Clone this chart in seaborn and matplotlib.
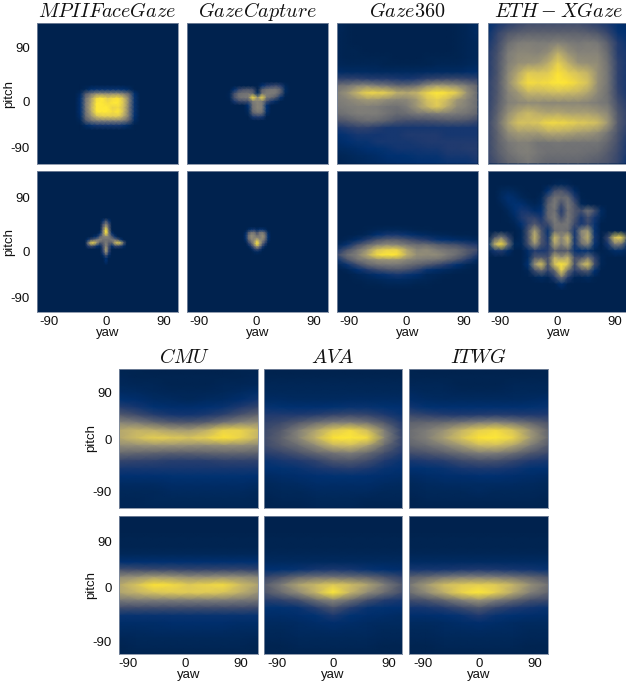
import matplotlib
matplotlib.use("Agg")
import matplotlib.pyplot as plt
import seaborn as sns
import numpy as np

# values are 0-100 density, each grid covers only its window
mpii_head = [
    [0,0,0,0,0,0,0,0,0,0,0,0,0],
    [0,0,3,8,10,10,10,10,10,8,5,0,0],
    [0,5,32,48,58,60,58,60,60,52,38,8,0],
    [0,8,45,68,95,100,90,95,98,82,50,10,0],
    [0,8,48,72,100,100,95,100,100,85,50,10,0],
    [0,8,48,75,100,100,100,92,95,82,48,10,0],
    [0,8,45,72,100,100,100,95,100,82,48,10,0],
    [0,6,42,62,82,88,88,88,88,72,46,8,0],
    [0,3,30,45,50,52,52,52,52,48,32,5,0],
    [0,0,5,10,12,12,12,12,12,10,5,0,0],
    [0,0,0,0,0,0,0,0,0,0,0,0,0],
]
mpii_gaze = [
    [0,0,0,0,0,0,0,0,0,0,0,0,0,0,0,0,0],
    [0,0,0,0,0,0,0,0,0,0,0,0,0,0,0,0,0],
    [0,0,0,0,0,0,0,10,30,10,0,0,0,0,0,0,0],
    [0,0,0,0,0,0,0,25,50,25,0,0,0,0,0,0,0],
    [0,0,0,0,0,0,0,35,75,30,0,0,0,0,0,0,0],
    [0,0,0,0,0,0,0,45,100,40,0,0,0,0,0,0,0],
    [0,0,0,0,0,0,10,50,95,48,10,0,0,0,0,0,0],
    [0,0,0,0,5,10,35,50,55,50,30,10,0,0,0,0,0],
    [0,0,10,25,35,50,55,45,45,45,50,45,30,10,0,0,0],
    [0,0,45,88,90,62,30,35,50,35,35,75,90,78,30,0,0],
    [0,0,15,25,20,10,5,25,55,25,8,20,20,15,5,0,0],
    [0,0,0,0,0,0,0,20,70,20,0,0,0,0,0,0,0],
    [0,0,0,0,0,0,0,15,60,15,0,0,0,0,0,0,0],
    [0,0,0,0,0,0,0,5,25,5,0,0,0,0,0,0,0],
    [0,0,0,0,0,0,0,0,8,0,0,0,0,0,0,0,0],
    [0,0,0,0,0,0,0,0,8,0,0,0,0,0,0,0,0],
    [0,0,0,0,0,0,0,0,0,0,0,0,0,0,0,0,0],
]
capture_head = [
    [0,0,0,0,0,0,0,0,0,0,0,0,0,0,0],
    [0,0,0,0,0,0,0,0,0,0,0,0,0,0,0],
    [0,0,0,0,0,0,0,0,8,15,18,22,15,3,0],
    [0,0,8,20,28,30,25,0,35,45,48,48,35,5,0],
    [0,2,25,42,45,45,40,5,45,50,50,48,30,3,0],
    [0,2,28,45,48,50,95,60,92,48,42,30,10,0,0],
    [0,0,12,22,25,25,50,55,50,25,12,5,0,0,0],
    [0,0,0,0,0,8,45,55,50,8,0,0,0,0,0],
    [0,0,0,0,0,5,45,55,50,8,0,0,0,0,0],
    [0,0,0,0,0,3,35,45,40,5,0,0,0,0,0],
    [0,0,0,0,0,0,12,15,12,0,0,0,0,0,0],
    [0,0,0,0,0,0,0,0,0,0,0,0,0,0,0],
    [0,0,0,0,0,0,0,0,0,0,0,0,0,0,0],
]
capture_gaze = [
    [0,0,0,0,0,0,0,0,0,0,0],
    [0,0,5,10,12,5,10,10,5,0,0],
    [0,5,30,45,45,25,45,48,30,5,0],
    [0,10,42,58,55,40,50,60,42,8,0],
    [0,10,45,60,55,58,50,60,42,8,0],
    [0,5,30,50,60,85,65,50,30,5,0],
    [0,0,15,35,65,100,70,38,15,0,0],
    [0,0,3,15,40,65,45,15,3,0,0],
    [0,0,0,3,15,25,15,3,0,0,0],
    [0,0,0,0,3,5,3,0,0,0,0],
    [0,0,0,0,0,0,0,0,0,0,0],
]
g360_head = [
    [3,1,0,0,0,0,0,0,0,0,0,0,1,2,5],
    [3,1,0,0,0,0,0,0,0,0,0,0,1,2,5],
    [2,1,0,0,0,0,0,0,0,0,0,0,1,2,4],
    [2,1,0,0,0,0,0,0,0,0,0,0,1,2,3],
    [2,1,1,0,0,0,0,0,0,0,0,0,1,2,3],
    [2,1,1,1,1,1,0,0,0,1,1,1,1,2,3],
    [3,2,2,2,2,1,1,1,1,1,2,2,2,3,4],
    [6,5,5,5,4,4,4,4,4,5,5,5,5,6,7],
    [18,18,18,16,15,15,13,12,14,18,20,22,22,20,18],
    [45,48,55,58,52,48,40,40,45,60,68,65,60,50,38],
    [52,62,78,92,92,88,75,72,78,92,100,96,88,62,42],
    [50,54,60,65,64,58,55,56,66,84,90,82,64,54,42],
    [48,50,52,52,50,46,44,50,64,78,88,74,58,52,42],
    [42,46,50,50,50,45,40,42,48,48,50,50,48,45,38],
    [28,32,38,42,40,35,28,25,25,26,28,30,30,28,22],
    [12,15,18,18,15,12,12,12,12,12,12,12,12,12,12],
    [8,10,12,12,11,12,12,14,14,14,14,12,12,12,12],
    [6,8,10,10,12,12,12,12,13,14,14,14,14,14,14],
    [4,5,6,8,9,10,11,11,11,12,12,14,14,15,15],
    [2,3,4,5,6,8,8,9,10,10,10,12,12,12,14],
    [1,2,3,4,5,6,7,7,8,8,9,10,10,10,12],
]
g360_gaze = [
    [0,0,0,0,0,0,0,0,0,0,0,0,0,0,0],
    [0,0,0,1,2,3,3,2,1,1,0,0,0,0,0],
    [0,0,1,3,8,12,12,10,6,4,3,2,1,1,0],
    [0,2,6,15,28,35,35,28,20,15,10,8,6,5,3],
    [3,10,25,40,52,58,55,48,42,42,35,30,26,18,14],
    [12,28,45,62,85,92,92,70,55,58,50,45,42,32,25],
    [22,42,52,72,95,100,98,75,60,58,58,50,42,30,15],
    [10,28,45,52,60,62,62,55,50,48,45,38,28,15,5],
    [2,10,22,38,45,48,48,42,36,30,22,14,8,3,1],
    [0,2,8,14,22,28,30,26,18,10,6,4,2,1,0],
    [0,0,2,4,7,10,12,10,7,3,2,1,0,0,0],
    [0,0,1,2,3,4,5,4,3,2,1,0,0,0,0],
    [0,0,0,1,1,2,2,2,1,1,0,0,0,0,0],
    [0,0,0,0,0,0,0,0,0,0,0,0,0,0,0],
]
eth_head = [
    [8,12,16,20,24,24,24,24,24,24,20,16,12,8,5],
    [10,20,30,34,36,36,36,36,36,36,34,30,20,10,8],
    [12,24,42,50,52,50,50,54,50,48,50,48,34,15,10],
    [15,28,50,56,56,54,60,75,62,54,54,54,40,15,12],
    [15,30,52,60,62,64,74,90,76,62,60,58,44,18,12],
    [15,30,56,72,88,86,88,98,90,84,78,60,46,18,12],
    [18,32,58,80,96,94,96,100,98,92,84,60,46,18,12],
    [18,32,54,64,78,78,80,82,80,78,70,56,44,20,12],
    [18,34,52,56,58,58,56,56,56,56,54,50,46,25,15],
    [20,38,60,72,80,74,70,72,68,68,68,64,56,30,18],
    [22,42,68,84,84,86,94,94,92,88,86,82,64,32,18],
    [22,38,58,66,66,66,72,72,70,66,64,58,46,28,15],
    [22,36,48,52,52,46,46,48,46,46,46,46,38,25,12],
    [22,34,44,50,52,47,44,44,44,44,42,40,32,22,12],
    [20,28,38,42,48,42,38,38,38,38,35,32,28,20,10],
]
eth_gaze = [
    [0,0,0,0,0,0,0,0,0,0,0,0,0,0,0,0,0,0,0,0,0,0],
    [0,0,0,0,0,0,0,0,0,0,0,0,0,0,0,0,0,0,0,0,0,0],
    [0,0,0,0,0,0,0,0,0,0,2,3,2,0,0,0,0,0,0,0,0,0],
    [0,0,3,4,3,1,0,0,0,8,25,30,18,5,0,0,0,0,0,0,0,0],
    [0,0,4,8,6,3,1,0,3,25,45,40,42,15,1,0,0,0,0,0,0,0],
    [0,0,2,6,9,8,4,2,5,35,50,25,48,28,3,1,0,0,0,0,0,0],
    [0,0,0,3,8,12,11,6,8,38,45,15,45,32,25,45,25,5,0,0,0,0],
    [0,0,0,1,5,13,18,18,12,38,50,25,48,30,12,26,12,3,0,0,0,0],
    [0,0,0,0,2,8,18,32,18,22,48,45,48,22,12,22,10,0,0,0,0,0],
    [0,0,0,0,0,3,28,68,30,10,42,45,42,12,55,65,10,0,0,0,0,0],
    [0,30,52,22,0,3,28,78,32,12,80,55,78,12,52,75,12,0,22,85,90,18],
    [8,75,95,48,3,3,25,62,28,15,70,50,68,12,42,55,10,0,12,50,45,8],
    [2,12,15,6,0,0,6,15,12,15,36,28,34,10,8,10,3,0,2,6,6,2],
    [0,0,0,0,0,0,5,30,32,25,75,62,75,25,26,45,18,2,0,0,0,0],
    [0,0,0,0,0,0,8,62,85,28,85,100,85,26,68,85,25,2,0,0,0,0],
    [0,0,0,0,0,0,2,22,38,18,38,88,42,16,25,32,8,0,0,0,0,0],
    [0,0,0,0,0,0,0,2,4,2,15,45,15,2,2,4,1,0,0,0,0,0],
    [0,0,0,0,0,0,0,0,0,0,1,8,1,0,0,0,0,0,0,0,0,0],
    [0,0,0,0,0,0,0,0,0,0,0,0,0,0,0,0,0,0,0,0,0,0],
    [0,0,0,0,0,0,0,0,0,0,0,0,0,0,0,0,0,0,0,0,0,0],
    [0,0,0,0,0,0,0,0,0,0,0,0,0,0,0,0,0,0,0,0,0,0],
    [0,0,0,0,0,0,0,0,0,0,0,0,0,0,0,0,0,0,0,0,0,0],
]
cmu_head = [
    [1,1,0,0,0,0,0,1,1],
    [2,1,1,1,1,1,1,1,2],
    [3,2,2,1,1,1,2,2,3],
    [5,4,3,2,2,2,3,4,6],
    [9,7,5,4,3,4,5,7,11],
    [16,12,9,7,7,8,10,14,20],
    [32,24,16,12,11,13,18,28,38],
    [55,50,40,32,30,34,45,55,60],
    [72,78,75,68,66,75,92,92,80],
    [72,82,90,88,85,90,98,92,78],
    [58,60,62,62,60,58,60,60,55],
    [40,38,36,34,34,36,38,38,36],
    [20,19,18,16,16,16,18,18,18],
    [12,12,12,12,12,12,12,12,12],
    [8,8,8,9,9,9,9,9,8],
    [5,5,5,6,6,6,6,6,5],
    [3,3,3,4,4,4,4,4,3],
    [2,2,3,3,3,3,3,3,2],
    [2,2,2,2,2,2,2,2,2],
]
ava_head = [
    [0,0,0,0,0,0,0,0,0],
    [1,1,1,1,1,1,1,1,1],
    [2,2,2,2,2,2,2,2,2],
    [3,3,3,3,3,3,3,3,3],
    [5,5,4,4,4,5,5,5,5],
    [10,9,8,8,9,10,10,9,8],
    [14,14,14,16,20,22,20,14,10],
    [18,22,32,42,50,52,45,30,14],
    [22,32,52,70,88,95,82,50,18],
    [24,36,55,78,98,100,95,55,20],
    [22,32,42,58,78,82,68,40,18],
    [16,20,28,38,45,50,40,25,14],
    [10,12,14,18,28,30,24,14,10],
    [8,9,10,12,14,16,13,10,8],
    [5,6,7,8,9,9,8,7,6],
    [3,4,5,6,6,6,6,5,4],
    [2,3,3,4,4,4,4,3,3],
    [1,2,2,3,3,3,2,2,2],
    [1,1,1,2,2,2,1,1,1],
]
itwg_head = [
    [1,0,0,0,0,0,0,0,1],
    [1,1,1,1,1,1,1,1,1],
    [2,2,2,1,1,1,2,2,2],
    [4,3,3,2,2,2,3,3,3],
    [6,5,4,4,4,4,4,5,6],
    [11,9,8,8,8,8,8,9,10],
    [22,18,15,14,15,16,15,14,14],
    [36,38,40,45,52,55,48,38,28],
    [42,50,62,78,90,95,85,62,38],
    [42,52,68,85,98,100,92,65,40],
    [36,42,52,65,80,82,70,50,32],
    [24,28,34,42,50,50,42,30,22],
    [12,14,16,22,26,26,20,14,12],
    [8,9,10,12,13,13,11,9,8],
    [5,6,7,7,8,8,7,6,5],
    [3,4,5,5,5,5,5,4,3],
    [2,3,3,3,4,3,3,3,2],
    [1,2,2,2,2,2,2,2,1],
    [1,1,1,1,1,1,1,1,1],
]
cmu_gaze = [
    [0,0,0,0,0,0,0,0,0],
    [0,0,0,0,0,0,0,0,0],
    [0,0,0,0,0,0,0,0,0],
    [1,1,1,1,1,1,1,1,1],
    [1,1,1,1,1,1,1,1,1],
    [3,3,3,3,3,3,3,3,3],
    [8,8,8,8,8,8,8,8,8],
    [26,24,22,22,20,20,20,20,18],
    [58,62,68,65,60,60,62,60,55],
    [72,85,98,95,88,92,95,82,70],
    [70,78,85,88,88,88,85,75,62],
    [48,50,50,50,50,50,50,48,45],
    [24,24,24,24,24,24,24,24,22],
    [10,10,10,10,10,10,10,10,10],
    [6,6,6,7,7,7,7,6,6],
    [4,4,5,5,5,5,5,4,4],
    [2,3,3,3,3,3,3,3,2],
    [1,2,2,2,2,2,2,2,1],
    [1,1,1,1,1,1,1,1,1],
]
ava_gaze = [
    [0,0,0,0,0,0,0,0,0],
    [0,0,0,0,0,0,0,0,0],
    [0,0,0,0,0,0,0,0,0],
    [1,1,1,1,1,1,1,1,1],
    [1,1,1,1,1,1,1,1,1],
    [2,2,2,2,2,2,2,2,2],
    [4,4,4,4,4,4,4,4,4],
    [8,9,10,12,13,12,10,8,7],
    [20,28,40,45,45,42,38,28,18],
    [32,50,70,80,88,82,70,50,30],
    [28,42,58,78,100,78,58,42,25],
    [15,18,25,42,55,42,25,15,12],
    [9,9,10,16,28,16,10,9,8],
    [6,6,7,9,13,9,7,6,5],
    [4,4,5,6,7,6,5,4,4],
    [3,3,4,4,5,4,4,3,3],
    [2,2,3,3,3,3,3,2,2],
    [1,1,2,2,2,2,2,1,1],
    [1,1,1,1,1,1,1,1,1],
]
itwg_gaze = [
    [0,0,0,0,0,0,0,0,0],
    [0,0,0,0,0,0,0,0,0],
    [0,0,0,0,0,0,0,0,0],
    [1,1,1,1,1,1,1,1,1],
    [1,1,1,1,1,1,1,1,1],
    [2,2,2,2,2,2,2,2,2],
    [5,5,5,5,5,5,5,5,5],
    [12,12,12,13,14,13,12,11,10],
    [35,40,48,52,52,50,45,38,30],
    [48,65,82,88,90,88,78,60,45],
    [42,58,75,92,100,90,72,52,38],
    [24,28,38,52,62,50,38,26,22],
    [11,12,15,22,30,20,14,11,10],
    [7,7,8,10,14,10,8,7,6],
    [4,4,5,6,7,6,5,4,4],
    [3,3,4,4,5,4,4,3,3],
    [2,2,3,3,3,3,3,2,2],
    [1,1,2,2,2,2,2,1,1],
    [1,1,1,1,1,1,1,1,1],
]

top_titles = [r"$MPIIFaceGaze$", r"$GazeCapture$", r"$Gaze360$", r"$ETH-XGaze$"]
bottom_titles = [r"$CMU$", r"$AVA$", r"$ITWG$"]
yaw_labels = ["-90", "0", "90"]
pitch_labels = ["90", "0", "-90"]

W, H = 626, 681
sns.set_theme(style="white")
plt.rcParams["font.family"] = ["Liberation Sans", "DejaVu Sans"]
plt.rcParams["mathtext.fontset"] = "cm"
cmap = sns.color_palette("cividis", as_cmap=True)

fig = plt.figure(figsize=(W / 100, H / 100), dpi=100)


def draw_panel(grid, box, window, xtick_px, ytick_px, show_x, show_y):
    left, top, pw, ph = box
    ax = fig.add_axes([left / W, 1 - (top + ph) / H, pw / W, ph / H])
    ax.set_facecolor(cmap(0.0))
    grid = np.array(grid)
    sns.heatmap(grid, ax=ax, cmap=cmap, vmin=0, vmax=100, cbar=False,
                xticklabels=False, yticklabels=False, shading="gouraud")
    # window says where the grid sits in the panel, in px from panel corner
    x0, x1, y0, y1 = window
    dx = (x1 - x0) / (grid.shape[1] - 1)
    dy = (y1 - y0) / (grid.shape[0] - 1)
    ax.set_xlim(-x0 / dx, (pw - x0) / dx)
    ax.set_ylim((ph - y0) / dy, -y0 / dy)
    ax.set_xticks([(p - x0) / dx for p in xtick_px] if show_x else [])
    ax.set_yticks([(p - y0) / dy for p in ytick_px] if show_y else [])
    if show_x:
        ax.set_xticklabels(yaw_labels)
        ax.set_xlabel("yaw", fontsize=9.5, labelpad=-1, color="#111111")
    if show_y:
        ax.set_yticklabels(pitch_labels, rotation=0)
        ax.set_ylabel("pitch", fontsize=9.5, labelpad=-3, color="#111111")
    ax.tick_params(axis="x", length=0, labelsize=9.5, labelcolor="#111111", pad=3)
    ax.tick_params(axis="y", length=0, labelsize=9.5, labelcolor="#111111", pad=5)
    for s in ax.spines.values():
        s.set_visible(True)
        s.set_linewidth(0.6)
        s.set_color("#7d8aa0")
    return ax


top_lefts = [37, 187, 337, 488]
top_heads = [mpii_head, capture_head, g360_head, eth_head]
top_gazes = [mpii_gaze, capture_gaze, g360_gaze, eth_gaze]
head_windows = [(38, 103, 62, 107), (38, 103, 55, 102), (0, 140, 0, 140), (0, 140, 0, 140)]
gaze_windows = [(45, 93, 44, 94), (56, 84, 56, 84), (0, 140, 54, 119), (0, 140, 0, 140)]
xticks_top = [12, 69.5, 127]
title_pads = [4, 1, 4, 4]

for i in range(4):
    ax = draw_panel(top_heads[i], (top_lefts[i], 23, 141, 141), head_windows[i], xticks_top,
                    [24.5, 78, 124.5], False, i == 0)
    ax.set_title(top_titles[i], fontsize=14.5, pad=title_pads[i], color="#111111")
    draw_panel(top_gazes[i], (top_lefts[i], 171, 141, 141), gaze_windows[i], xticks_top,
               [26.7, 80.7, 127], True, i == 0)

bottom_boxes = [(119, 139), (264, 138), (409, 139)]
bottom_heads = [cmu_head, ava_head, itwg_head]
bottom_gazes = [cmu_gaze, ava_gaze, itwg_gaze]
xticks_bottom = [[9.3, 66, 122], [12.7, 68.7, 125], [13.7, 70, 126]]
title_x = [0.47, 0.5, 0.5]

for i in range(3):
    left, pw = bottom_boxes[i]
    ax = draw_panel(bottom_heads[i], (left, 369, pw, 139), (0, pw, 0, 138), xticks_bottom[i],
                    [23.7, 71, 122.7], False, i == 0)
    ax.set_title(bottom_titles[i], fontsize=14.5, pad=4, x=title_x[i], color="#111111")
    draw_panel(bottom_gazes[i], (left, 516, pw, 138), (0, pw, 0, 138), xticks_bottom[i],
               [25, 71.7, 126], True, i == 0)

fig.savefig("out.png", dpi=100)
